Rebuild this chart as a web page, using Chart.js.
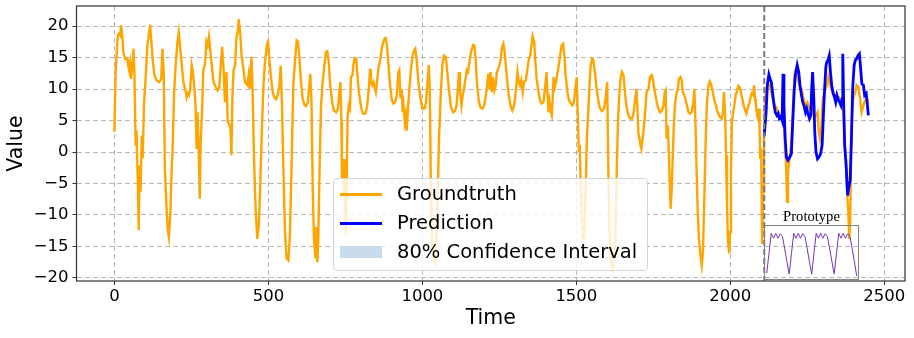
<!DOCTYPE html>
<html>
<head>
<meta charset="utf-8">
<script src="https://cdn.jsdelivr.net/npm/chart.js@4.4.0/dist/chart.umd.min.js"></script>
<style>
  body { margin: 0; background: #fff; }
  #wrap { position: relative; width: 914px; height: 338px; font-family: "DejaVu Sans", sans-serif; }
  #main { position: absolute; left: 0; top: 0; }
  .legend { position: absolute; left: 333px; top: 178px; width: 315px; height: 93px; box-sizing: border-box;
            border: 1px solid #d6d6d6; border-radius: 4px; background: rgba(255,255,255,0.8); }
  .legend .sw { position: absolute; left: 6px; width: 42px; }
  .legend .txt { position: absolute; left: 63px; font-size: 19.5px; line-height: 24px; color: #000; white-space: nowrap; }
  .proto-label { position: absolute; left: 764px; top: 208px; width: 95px; text-align: center;
                 font-family: "Liberation Serif", serif; font-size: 14.6px; line-height: 16px; color: #000; }
  .proto-box { position: absolute; left: 764px; top: 225px; width: 95px; height: 55px; box-sizing: border-box;
               border: 1px solid #808080; }
  .proto-box canvas { position: absolute; left: 0; top: 0; }
</style>
</head>
<body>
<div id="wrap">
  <canvas id="main" width="914" height="338"></canvas>
  <div class="legend">
    <div class="sw" style="top:14px;height:2.5px;background:#FFA500"></div>
    <div class="txt" style="top:3px">Groundtruth</div>
    <div class="sw" style="top:43px;height:2.5px;background:#0000FF"></div>
    <div class="txt" style="top:32px">Prediction</div>
    <div class="sw" style="top:67px;height:12px;background:#c9dcee"></div>
    <div class="txt" style="top:61px">80% Confidence Interval</div>
  </div>
  <div class="proto-label">Prototype</div>
  <div class="proto-box"><canvas id="proto" width="93" height="53"></canvas></div>
</div>
<script>
// Groundtruth series (time, value)
const gtTime = [
  0, 4, 11, 15, 19, 22, 26, 29, 35, 41,
  44, 48, 51, 54, 58, 62, 65, 69, 72, 76,
  79, 82, 85, 89, 92, 96, 102, 107, 111, 116,
  120, 124, 130, 137, 145, 152, 156, 160, 164, 169,
  173, 177, 182, 185, 189, 194, 199, 205, 209, 213,
  219, 224, 230, 235, 238, 242, 246, 251, 255, 260,
  264, 267, 270, 274, 277, 280, 284, 289, 294, 299,
  303, 307, 311, 316, 322, 329, 335, 341, 346, 350,
  355, 359, 364, 368, 372, 377, 380, 383, 387, 392,
  396, 400, 404, 409, 413, 419, 424, 432, 436, 440,
  445, 449, 453, 459, 464, 469, 473, 478, 484, 489,
  495, 499, 503, 509, 514, 519, 525, 530, 536, 540,
  544, 549, 554, 559, 565, 570, 576, 581, 587, 592,
  596, 601, 606, 611, 617, 622, 628, 633, 636, 640,
  644, 648, 653, 656, 659, 662, 666, 671, 676, 682,
  687, 691, 696, 700, 707, 713, 720, 726, 730, 734,
  737, 739, 742, 746, 748, 751, 754, 757, 761, 765,
  768, 773, 776, 780, 785, 789, 795, 802, 808, 815,
  821, 827, 830, 833, 837, 841, 845, 849, 852, 857,
  863, 870, 877, 881, 885, 890, 895, 901, 906, 911,
  917, 922, 925, 929, 933, 936, 939, 943, 946, 949,
  952, 957, 962, 968, 973, 977, 982, 987, 994, 1000,
  1007, 1012, 1016, 1021, 1024, 1027, 1031, 1036, 1041, 1045,
  1050, 1054, 1060, 1065, 1070, 1076, 1081, 1087, 1093, 1100,
  1106, 1111, 1116, 1119, 1122, 1127, 1131, 1135, 1140, 1144,
  1148, 1153, 1158, 1165, 1169, 1173, 1177, 1183, 1188, 1195,
  1201, 1207, 1211, 1214, 1218, 1221, 1225, 1229, 1234, 1238,
  1242, 1249, 1254, 1259, 1263, 1267, 1273, 1279, 1286, 1292,
  1298, 1304, 1309, 1313, 1317, 1321, 1326, 1330, 1336, 1341,
  1345, 1350, 1354, 1358, 1363, 1367, 1371, 1377, 1382, 1387,
  1393, 1398, 1403, 1406, 1410, 1413, 1417, 1420, 1423, 1426,
  1430, 1434, 1438, 1443, 1447, 1452, 1457, 1461, 1465, 1471,
  1476, 1482, 1487, 1492, 1498, 1501, 1504, 1508, 1511, 1514,
  1517, 1521, 1525, 1529, 1534, 1538, 1542, 1546, 1551, 1555,
  1560, 1566, 1571, 1577, 1583, 1590, 1595, 1600, 1603, 1607,
  1611, 1617, 1622, 1627, 1631, 1635, 1640, 1644, 1648, 1653,
  1657, 1662, 1669, 1675, 1681, 1686, 1691, 1695, 1698, 1701,
  1705, 1708, 1711, 1715, 1722, 1728, 1734, 1739, 1745, 1750,
  1755, 1761, 1766, 1772, 1777, 1783, 1787, 1790, 1793, 1797,
  1800, 1803, 1806, 1810, 1813, 1816, 1820, 1825, 1829, 1833,
  1838, 1842, 1846, 1851, 1855, 1859, 1864, 1869, 1874, 1880,
  1883, 1886, 1890, 1894, 1898, 1903, 1907, 1911, 1916, 1920,
  1924, 1929, 1933, 1937, 1943, 1948, 1953, 1959, 1965, 1972,
  1976, 1979, 1983, 1986, 1989, 1992, 1996, 1999, 2002, 2005,
  2009, 2013, 2017, 2022, 2026, 2030, 2035, 2039, 2043, 2048,
  2052, 2056, 2061, 2065, 2069, 2074, 2077, 2080, 2083, 2087,
  2090, 2093, 2095, 2097, 2100, 2103, 2106, 2109, 2113, 2116,
  2122, 2127, 2134, 2140, 2145, 2151, 2161, 2168, 2174, 2178,
  2181, 2184, 2187, 2192, 2196, 2200, 2205, 2209, 2213, 2218,
  2224, 2231, 2237, 2244, 2250, 2257, 2263, 2267, 2272, 2278,
  2283, 2287, 2291, 2296, 2300, 2306, 2313, 2318, 2324, 2329,
  2334, 2340, 2345, 2352, 2358, 2363, 2367, 2371, 2376, 2380,
  2383, 2386, 2389, 2392, 2395, 2399, 2405, 2410, 2416, 2421,
  2426, 2432, 2437, 2443, 2448
];
const gtValue = [
  3.2, 12.7, 18.5, 18.8, 18.5, 20.1, 18.3, 15.9, 14.8, 14.8,
  14, 13, 14, 11.6, 13.5, 16.4, 12.7, 1, 3.4, -4.8,
  -12.4, -2.1, -6.3, 2.6, -1, 7.4, 12.2, 16.9, 18.3, 20.2,
  17.5, 14.8, 12.2, 11.4, 11.1, 11.6, 16.4, 12.7, -2.6, -8.5,
  -12.2, -13.5, -9.5, -4.2, 0.5, 9.5, 13.8, 17.5, 19, 16.9,
  13.8, 11.1, 10, 8.7, 9.3, 9, 10, 13.8, 12.7, 10,
  6.9, 0.5, 6.3, 0, -7.4, 1.1, 5.8, 13.2, 13.8, 17.5,
  16.9, 18.3, 16.4, 13.8, 11.1, 10.3, 9.8, 10.3, 14.3, 16.7,
  12.7, 7.9, 12.7, 4.8, 4.5, 3.7, -0.5, 8.5, 13, 13.8,
  18, 19, 21.1, 18.5, 15.3, 13.2, 11.1, 10.6, 12.2, 10,
  15.1, 9.5, -0.5, -9.5, -13.8, -11.6, -6.3, 2.1, 10.6, 14.3,
  16.9, 17.5, 14.8, 11.6, 9.5, 8.7, 8.4, 9, 10.6, 13.7,
  7.9, -3.2, -12.7, -16.9, -17.2, -13.2, -0.5, 10.6, 14.8, 17.7,
  17.5, 14.8, 11.1, 8.5, 7.5, 7.3, 7.9, 10.6, 12.4, 7.9,
  -5.8, -13.8, -16.9, -11.9, -17.5, -13.8, -3.2, 7.4, 11.1, 13.8,
  15.9, 16, 14.3, 11.1, 7.9, 6.6, 6.3, 6.9, 9.5, 11.1,
  4.8, -4.2, -1.1, -6.3, -1.1, -13.2, -5.8, 5.3, 7.4, 6.9,
  11.9, 12.2, 13.8, 14.9, 14.8, 12.2, 9, 6.9, 6.1, 6.1,
  7.4, 10.6, 13.2, 11.1, 10.6, 11.1, 10.3, 9.5, 10.8, 13.2,
  14.6, 16.9, 18, 18.1, 16.9, 13.8, 10.6, 8.2, 7.7, 7.9,
  9, 12.7, 13, 8.5, 10, 6.3, 7.4, 4.8, 5.8, 3.4,
  5.8, 9.5, 12.7, 15.3, 16.1, 16.4, 14.3, 11.1, 8.5, 6.9,
  6.9, 7.9, 10.6, 13.8, 10, -3.2, -13.8, -16.9, -17.5, -13.8,
  -6.3, 2.1, 9.5, 13.8, 15.3, 15.1, 12.7, 9.5, 7.1, 6.3,
  6.5, 7.4, 10.6, 12.7, 10, 7.4, 9, 10, 11.6, 13,
  12.7, 14.3, 15.9, 17, 16.9, 14.8, 11.1, 8.2, 7.1, 6.9,
  7.4, 9.3, 11.1, 12.4, 10, 12.7, 9.5, 11.9, 9.8, 10.6,
  12.7, 13.5, 14.6, 16.7, 17.2, 15.9, 12.7, 9.5, 7.4, 6.6,
  7.4, 10, 12.7, 11.1, 10.6, 11.4, 9.5, 11.1, 11.4, 13.2,
  14.6, 15.3, 16.9, 18.4, 17.5, 14.3, 11.6, 9.5, 8.2, 7.7,
  7.9, 10, 12.7, 9.5, 6.3, 7.9, 6.3, 5.8, 8.5, 11.9,
  10.3, 11.1, 12.4, 13.8, 15.3, 16.9, 17.2, 15.3, 12.2, 9.5,
  8.2, 7.7, 7.4, 7.9, 10.6, 11.9, 6.9, 0, 1.1, -5.3,
  -9.5, -13.8, -13.8, -8.5, 2.1, 5.8, 10, 13.5, 14.8, 14.6,
  12.7, 10, 8.2, 6.9, 6.5, 6.9, 8.5, 11.1, -0.5, -11.1,
  -16.9, -18.5, -18, -12.7, -3.2, 4.8, 9.5, 11.9, 12.7, 12.2,
  10, 7.4, 5.8, 5.3, 5.3, 6.3, 8.5, 10, 7.4, 3.2,
  2.1, 1.1, 0.5, 2, 5.5, 9.5, 10, 11.9, 12.2, 11.1,
  9.5, 7.9, 6.9, 6.3, 6.5, 7.4, 9.5, 9.8, 2.1, 4.2,
  0, -4.8, -9, -5.3, -0.5, 3.7, 7.4, 9.3, 9.8, 11.6,
  11.9, 11.4, 9.5, 9, 8.2, 7.4, 6.3, 6.1, 6.3, 7.9,
  10, 5.8, -2.1, -9.5, -13.8, -16.4, -18, -15.9, -6.3, 2.1,
  7.9, 10.6, 11.2, 10.8, 9.5, 8.2, 7.4, 6.3, 5.6, 5.3,
  6.3, 9.5, 5.8, -0.5, -8.5, -13.8, -16.1, -12.7, -3.2, 4.8,
  6.3, 7.4, 9, 9.8, 10.5, 10.3, 9.3, 8.5, 7.4, 6.6,
  6.1, 6.9, 7.7, 8.5, 9.3, 9, 10.6, 8.5, 7.4, 5.8,
  5.3, 6.9, 3.2, -1.1, 0.5, -14.6, -6.3, 3.2, 8, 10,
  10.8, 10.6, 9.3, 7.9, 7.4, 6.9, 5.8, 5.8, 4.8, 0,
  -2.1, -7.9, -3.2, -1.1, 0.5, 3.7, 9, 12.7, 13.2, 11.9,
  10.6, 10, 8.5, 7.4, 7.9, 6.9, 7.4, 6.3, 5.8, 5.8,
  6.3, 3.2, 2.1, 4.2, 8.5, 9.5, 10.6, 11.9, 10.6, 10,
  9, 9, 8.5, 8.7, 7.9, 7.9, 6.3, 2.1, -3.2, -7.4,
  -9.5, -13.8, -11.1, -0.5, 5.8, 8.5, 9.5, 10.6, 10.3, 8.5,
  6.3, 7.4, 8.2, 8.5, 7.9
];

// Prediction series (time, value)
const predTime = [
  2110, 2116, 2120, 2125, 2129, 2133, 2138, 2142, 2146, 2151,
  2155, 2159, 2164, 2168, 2171, 2174, 2178, 2182, 2187, 2193,
  2198, 2202, 2207, 2211, 2217, 2222, 2226, 2231, 2235, 2239,
  2244, 2248, 2252, 2257, 2261, 2264, 2267, 2271, 2274, 2278,
  2283, 2288, 2293, 2298, 2302, 2306, 2310, 2313, 2317, 2321,
  2325, 2329, 2333, 2338, 2342, 2346, 2351, 2355, 2359, 2363,
  2365, 2368, 2371, 2376, 2379, 2381, 2384, 2389, 2393, 2397,
  2402, 2406, 2410, 2414, 2419, 2423, 2427, 2432, 2436, 2441,
  2445, 2448
];
const predValue = [
  2.6, 6.3, 10.6, 12.3, 11.6, 11.1, 9, 7.4, 6.3, 5.8,
  6.1, 5.3, 5.6, 5, 12.4, 7.4, 2.1, -0.8, -1.3, -0.8,
  -0.3, 4.2, 9.5, 12.2, 13.8, 12.7, 10.6, 9, 7.9, 7.4,
  6.3, 6.9, 6.1, 5.3, 5.8, 10, 12.7, 8.5, 3.2, 0,
  -1.1, -0.8, -0.3, 1.1, 5.8, 10, 13.5, 14.3, 14.6, 15.3,
  12.7, 10.6, 9.5, 8.7, 7.9, 9, 8.2, 7.9, 7.4, 8.5,
  15.6, 7.4, 1.1, -2.1, -5.3, -6.9, -5.8, -4.5, 2.1, 10,
  13.8, 14.6, 14.8, 15.3, 15.6, 13.2, 10.8, 10.6, 9, 9.3,
  7.4, 5.8
];

// Prototype inset (normalised shape, 4 cycles)
const protoValue = [
  0.02, 0.5, 1.0, 0.88, 1.0, 0.88, 0.99, 0.92, 0.62, 0.3,
  0.0, 0.5, 1.0, 0.88, 1.0, 0.88, 0.99, 0.92, 0.62, 0.3,
  0.0, 0.5, 1.0, 0.88, 1.0, 0.88, 0.99, 0.92, 0.62, 0.3,
  0.0, 0.5, 1.0, 0.88, 1.0, 0.88, 0.99, 0.92, 0.62, 0.3,
  -0.05
];

const splitTime = 2110;
const xTicks = [0, 500, 1000, 1500, 2000, 2500];
const yTicks = [-20, -15, -10, -5, 0, 5, 10, 15, 20];

Chart.defaults.font.family = "'DejaVu Sans', sans-serif";
Chart.defaults.color = '#000';

const gridColor = 'rgba(160,160,160,0.75)';

// frame + forecast start marker
const framePlugin = {
  id: 'frame',
  afterDatasetsDraw(chart) {
    const {ctx, chartArea, scales} = chart;
    const x = scales.x.getPixelForValue(splitTime);
    ctx.save();
    ctx.strokeStyle = '#7a7a7a';
    ctx.lineWidth = 2;
    ctx.setLineDash([6, 3]);
    ctx.beginPath();
    ctx.moveTo(x, chartArea.top);
    ctx.lineTo(x, chartArea.bottom);
    ctx.stroke();
    ctx.restore();
  },
  afterDraw(chart) {
    const {ctx, chartArea} = chart;
    ctx.save();
    ctx.strokeStyle = '#333';
    ctx.lineWidth = 1.2;
    ctx.strokeRect(chartArea.left, chartArea.top, chartArea.right - chartArea.left, chartArea.bottom - chartArea.top);
    ctx.restore();
  }
};

const fmt = v => v < 0 ? '\u2212' + Math.abs(v) : String(v);

new Chart(document.getElementById('main'), {
  type: 'line',
  data: {
    datasets: [
      {
        label: 'Groundtruth',
        data: gtTime.map((t, i) => ({x: t, y: gtValue[i]})),
        borderColor: '#FFA500',
        borderWidth: 2.4,
        pointRadius: 0,
        order: 2
      },
      {
        label: 'Prediction',
        data: predTime.map((t, i) => ({x: t, y: predValue[i]})),
        borderColor: '#0000FF',
        borderWidth: 2.8,
        pointRadius: 0,
        order: 1
      }
    ]
  },
  options: {
    responsive: false,
    animation: false,
    devicePixelRatio: 1,
    layout: { padding: { top: 6, right: 9, left: 0, bottom: 0 } },
    plugins: { legend: { display: false }, tooltip: { enabled: false } },
    scales: {
      x: {
        type: 'linear',
        min: -123,
        max: 2567,
        afterBuildTicks: s => { s.ticks = xTicks.map(v => ({value: v})); },
        afterFit: s => { s.height = 57; s.paddingLeft = 0; s.paddingRight = 0; },
        ticks: { font: { size: 16.5 }, padding: 2, maxRotation: 0, callback: fmt },
        grid: { color: gridColor, tickColor: '#333', tickLength: 4, tickWidth: 1 },
        border: { display: false, dash: [5, 3] },
        title: { display: true, text: 'Time', font: { size: 20.5 }, padding: { top: 0, bottom: 7 } }
      },
      y: {
        min: -20.48,
        max: 23.18,
        afterBuildTicks: s => { s.ticks = yTicks.map(v => ({value: v})); },
        afterFit: s => { s.width = 76.5; s.paddingTop = 0; s.paddingBottom = 0; },
        ticks: { font: { size: 16.5 }, padding: 4, callback: fmt },
        grid: { color: gridColor, tickColor: '#333', tickLength: 4, tickWidth: 1 },
        border: { display: false, dash: [5, 3] },
        title: { display: true, text: 'Value', font: { size: 20.5 }, padding: { top: 4, bottom: 0 } }
      }
    }
  },
  plugins: [framePlugin]
});

// small prototype inset
new Chart(document.getElementById('proto'), {
  type: 'line',
  data: {
    datasets: [{
      data: protoValue.map((v, i) => ({x: i, y: v})),
      borderColor: '#7434b4',
      borderWidth: 1,
      pointRadius: 0
    }]
  },
  options: {
    responsive: false,
    animation: false,
    devicePixelRatio: 1,
    layout: { padding: 0 },
    plugins: { legend: { display: false }, tooltip: { enabled: false } },
    scales: {
      x: { type: 'linear', display: false, min: -0.76, max: 40.58 },
      y: { display: false, min: -0.123, max: 1.18 }
    }
  }
});
</script>
</body>
</html>
